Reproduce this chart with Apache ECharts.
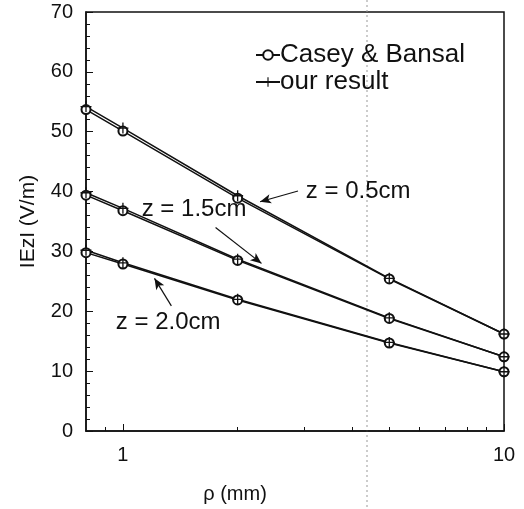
<!DOCTYPE html>
<html style="height: 100%">
<head>
	<meta charset="utf-8">
</head>
<body style="height: 100%; margin: 0; background: #fff">
<div id="container" style="width: 524px; height: 509px"></div>
<script type="text/javascript" src="https://cdn.jsdelivr.net/npm/echarts@6/dist/echarts.min.js"></script>
<script type="text/javascript">
    // rho in mm
    var rho = [0.8, 1, 2, 5, 10];

    var caseyZ05 = [53.7, 50.1, 38.9, 25.4, 16.2];
    var oursZ05  = [54.2, 50.6, 39.3, 25.5, 16.2];
    var caseyZ15 = [39.4, 36.8, 28.5, 18.8, 12.4];
    var oursZ15  = [39.8, 37.2, 28.7, 18.9, 12.4];
    var caseyZ20 = [29.8, 27.9, 21.9, 14.7, 9.9];
    var oursZ20  = [30.2, 28.1, 22.0, 14.8, 9.9];

    var xMajorTicks = [1, 10];
    var xMinorTicks = [0.9, 2, 3, 4, 5, 6, 7, 8, 9];

    // annotation text anchors and arrows, in data units
    var notes = [
        { text: 'z = 0.5cm', at: [3.02, 40.1], from: [2.88, 40.1], to: [2.29, 38.3] },
        { text: 'z = 1.5cm', at: [1.12, 37.1], from: [1.75, 34.0], to: [2.31, 28.0] },
        { text: 'z = 2.0cm', at: [0.958, 18.1], from: [1.34, 20.9], to: [1.21, 25.5] }
    ];

    var ink = '#111111';
    var font = 'Liberation Sans, Arial, sans-serif';
    var plusPath = 'path://M0,4.4H10V5.6H0Z M4.4,0H5.6V10H4.4Z';

    function pairs(ys) {
        var out = [];
        for (var i = 0; i < rho.length; i++) out.push([rho[i], ys[i]]);
        return out;
    }

    function caseySeries(ys) {
        return {
            name: 'Casey & Bansal',
            type: 'line',
            data: pairs(ys),
            symbol: 'emptyCircle',
            symbolSize: 9,
            lineStyle: { color: ink, width: 1.5 },
            itemStyle: { color: ink, borderColor: ink, borderWidth: 1.2 }
        };
    }

    function oursSeries(ys) {
        return {
            name: 'our result',
            type: 'line',
            data: pairs(ys),
            symbol: plusPath,
            symbolSize: 11,
            lineStyle: { color: ink, width: 1.5 },
            itemStyle: { color: ink }
        };
    }

    var arrowLines = notes.map(function (n) {
        return [{ coord: n.from }, { coord: n.to }];
    });
    var noteLabels = notes.map(function (n) {
        return {
            coord: n.at,
            symbolSize: 0,
            label: {
                show: true, position: 'right', distance: 0,
                formatter: n.text, color: ink, fontSize: 24, fontFamily: font
            }
        };
    });

    var series = [
        caseySeries(caseyZ05), caseySeries(caseyZ15), caseySeries(caseyZ20),
        oursSeries(oursZ05), oursSeries(oursZ15), oursSeries(oursZ20)
    ];
    series[0].markLine = {
        silent: true,
        symbol: ['none', 'arrow'],
        symbolSize: [7, 11],
        label: { show: false },
        lineStyle: { color: ink, width: 1.2, type: 'solid' },
        data: arrowLines
    };
    series[0].markPoint = { silent: true, symbol: 'circle', data: noteLabels };

    var myChart = echarts.init(document.getElementById('container'));
    var option = {
        animation: false,
        backgroundColor: '#ffffff',
        grid: {
            left: 86, right: 20, top: 12, bottom: 75,
            show: true, borderColor: ink, borderWidth: 1.5
        },
        legend: {
            orient: 'vertical',
            left: 250, top: 37,
            itemWidth: 24, itemHeight: 12, itemGap: 1,
            data: ['Casey & Bansal', 'our result'],
            textStyle: { color: ink, fontSize: 26, fontFamily: font, padding: [0, 0, 0, -5] }
        },
        graphic: [{
            // faint fold line from the scanned original
            type: 'line',
            silent: true,
            shape: { x1: 367, y1: 0, x2: 367, y2: 509 },
            style: { stroke: '#999', lineWidth: 1, lineDash: [2, 3] }
        }],
        xAxis: [{
            type: 'log',
            logBase: 10,
            min: 0.8,
            max: 10,
            name: 'ρ (mm)',
            nameLocation: 'middle',
            nameGap: 53,
            nameTextStyle: { color: ink, fontSize: 20, fontFamily: font, padding: [0, 120, 0, 0] },
            axisLine: { lineStyle: { color: ink, width: 1.5 } },
            axisTick: { inside: true, length: 7, customValues: xMajorTicks, lineStyle: { color: ink } },
            axisLabel: { customValues: xMajorTicks, color: ink, fontSize: 20, fontFamily: font, margin: 14 },
            splitLine: { show: false },
            minorTick: { show: false }
        }, {
            type: 'log',
            logBase: 10,
            min: 0.8,
            max: 10,
            position: 'bottom',
            axisLine: { show: false },
            axisTick: { inside: true, length: 4, customValues: xMinorTicks, lineStyle: { color: ink } },
            axisLabel: { show: false },
            splitLine: { show: false }
        }],
        yAxis: {
            type: 'value',
            min: 0,
            max: 70,
            interval: 10,
            name: 'IEzI (V/m)',
            nameLocation: 'middle',
            nameGap: 47,
            nameTextStyle: { color: ink, fontSize: 21, fontFamily: font },
            axisLine: { show: true, lineStyle: { color: ink, width: 1.5 } },
            axisTick: { inside: true, length: 7, lineStyle: { color: ink } },
            minorTick: { show: true, splitNumber: 5, length: 4, lineStyle: { color: ink } },
            axisLabel: { color: ink, fontSize: 20, fontFamily: font, margin: 13 },
            splitLine: { show: false }
        },
        series: series
    };
    myChart.setOption(option);
</script>
</body>
</html>
